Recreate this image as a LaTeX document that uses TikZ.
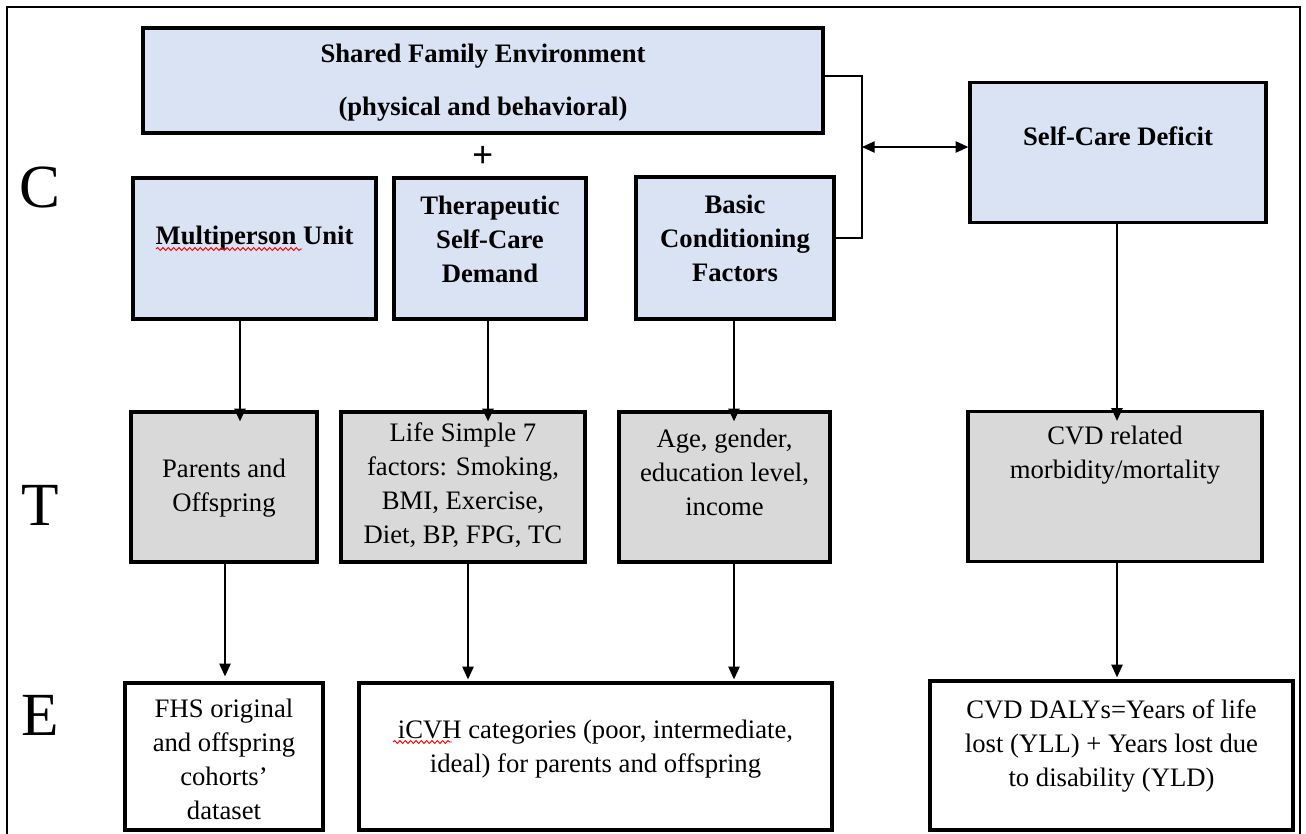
\documentclass[tikz,border=0pt]{standalone}
\usepackage{fontspec}
\setmainfont{Liberation Serif}
\usetikzlibrary{arrows.meta,calc,decorations.pathmorphing}

\definecolor{boxblue}{HTML}{DAE3F3}
\definecolor{boxgray}{HTML}{D9D9D9}

\tikzset{
  cbox/.style={draw=black, line width=2.5pt, fill=boxblue, inner sep=0pt},
  tbox/.style={cbox, fill=boxgray},
  ebox/.style={cbox, fill=white},
  txt/.style={align=center, inner sep=0pt, font=\fontsize{20}{25.5}\selectfont},
  btxt/.style={txt, font=\fontsize{20}{25.5}\selectfont\bfseries},
  rowlbl/.style={inner sep=0pt, font=\fontsize{46}{50}\selectfont},
  conn/.style={line width=0.95pt},
  arr/.style={conn, -{Triangle[length=9.5pt,width=8.5pt]}},
  dblarr/.style={conn, {Triangle[length=9.5pt,width=8.5pt]}-{Triangle[length=9.5pt,width=8.5pt]}},
  squig/.style={red, line width=0.7pt, decorate, decoration={snake, amplitude=1.1pt, segment length=4pt}},
}

\begin{document}
\begin{tikzpicture}[x=0.75pt,y=0.75pt,yscale=-1,xscale=1]
	\useasboundingbox (0,0) rectangle (1306,833);
	
	%Frame
	\draw [line width=1.5pt] (7,845) -- (7,7) -- (1300,7) -- (1300,845);
	
	%Row letters
	\node [rowlbl] (lc) at (40,187) {C};
	\node [rowlbl] (lt) at (40,505) {T};
	\node [rowlbl] (le) at (40,715) {E};
	
	%C row
	\node [cbox, minimum width=510pt, minimum height=78.75pt] (sfe) at (483,80.5) {};
	\node [btxt] (sfetxt) at (483,82.5) {Shared Family Environment\\[14pt](physical and behavioral)};
	\node [btxt, font=\fontsize{28}{30}\selectfont\bfseries] (plus) at (483,157) {+};
	
	\node [cbox, minimum width=182.25pt, minimum height=105.75pt] (mpu) at (254.5,248.5) {};
	\node [btxt] (mputxt) at (254.5,238) {Multiperson Unit};
	\node [cbox, minimum width=144pt, minimum height=105.75pt] (tsd) at (490,248.5) {};
	\node [btxt] (tsdtxt) at (490,239.5) {Therapeutic\\Self-Care\\Demand};
	\node [cbox, minimum width=148.5pt, minimum height=106.5pt] (bcf) at (735,248) {};
	\node [btxt] (bcftxt) at (735,238) {Basic\\Conditioning\\Factors};
	\node [cbox, minimum width=222pt, minimum height=105pt] (scd) at (1118,152.5) {};
	\node [btxt] (scdtxt) at (1118,136) {Self-Care Deficit};
	
	%Bracket and double arrow
	\draw [conn] ($(sfe.east)+(0,-4.5)$) -- (862,76) |- ($(bcf.east)+(0,-10)$);
	\coordinate (brk) at (862,147);
	\draw [dblarr] (brk) -- (scd.west |- brk);
	
	%T row
	\node [tbox, minimum width=139.5pt, minimum height=112.5pt] (po) at (224,487) {};
	\node [txt] (potxt) at (224,488.5) {Parents and\\Offspring};
	\node [tbox, minimum width=183pt, minimum height=112.5pt] (ls7) at (463,487) {};
	\node [txt] (ls7txt) at (463,485) {Life Simple 7\\factors: Smoking,\\BMI, Exercise,\\Diet, BP, FPG, TC};
	\node [tbox, minimum width=158.25pt, minimum height=112.5pt] (age) at (724.5,487) {};
	\node [txt] (agetxt) at (724.5,472) {Age, gender,\\education level,\\income};
	\node [tbox, minimum width=220.5pt, minimum height=112.5pt] (cvdr) at (1115,486.5) {};
	\node [txt] (cvdrtxt) at (1115,455) {CVD related\\morbidity/mortality};
	
	%E row
	\node [ebox, minimum width=148.5pt, minimum height=110.25pt] (fhs) at (224,756.5) {};
	\node [txt] (fhstxt) at (224,759) {FHS original\\and offspring\\cohorts’\\dataset};
	\node [ebox, minimum width=354.75pt, minimum height=110.25pt] (icvh) at (595.5,756.5) {};
	\node [txt] (icvhtxt) at (595.5,749) {iCVH categories (poor, intermediate,\\ideal) for parents and offspring};
	\node [ebox, minimum width=272.25pt, minimum height=111.75pt] (dal) at (1111.5,755.5) {};
	\node [txt] (daltxt) at (1111.5,746) {CVD DALYs=Years of life\\lost (YLL) + Years lost due\\to disability (YLD)};
	
	%Arrows C to T
	\draw [arr] ($(mpu.south)+(-14.5,0)$) coordinate (a1) -- ($(a1 |- po.north)+(0,11)$);
	\draw [arr] ($(tsd.south)+(-2,0)$) coordinate (a2) -- ($(a2 |- ls7.north)+(0,11)$);
	\draw [arr] ($(bcf.south)+(-1,0)$) coordinate (a3) -- ($(a3 |- age.north)+(0,11)$);
	\draw [arr] ($(scd.south)+(-1,0)$) coordinate (a4) -- ($(a4 |- cvdr.north)+(0,11)$);
	
	%Arrows T to E
	\draw [arr] ($(po.south)+(1,0)$) coordinate (b1) -- ($(b1 |- fhs.north)+(0,-5)$);
	\draw [arr] ($(ls7.south)+(5,0)$) coordinate (b2) -- ($(b2 |- icvh.north)+(0,-2)$);
	\draw [arr] ($(age.south)+(9.5,0)$) coordinate (b3) -- ($(b3 |- icvh.north)+(0,-2)$);
	\draw [arr] ($(cvdr.south)+(2,0)$) coordinate (b4) -- ($(b4 |- dal.north)+(0,-2)$);
	
	%Spelling marks
	\draw [squig] (156,249) -- (302,249);
	\draw [squig] (393,742) -- (452,742);
	
\end{tikzpicture}
\end{document}
